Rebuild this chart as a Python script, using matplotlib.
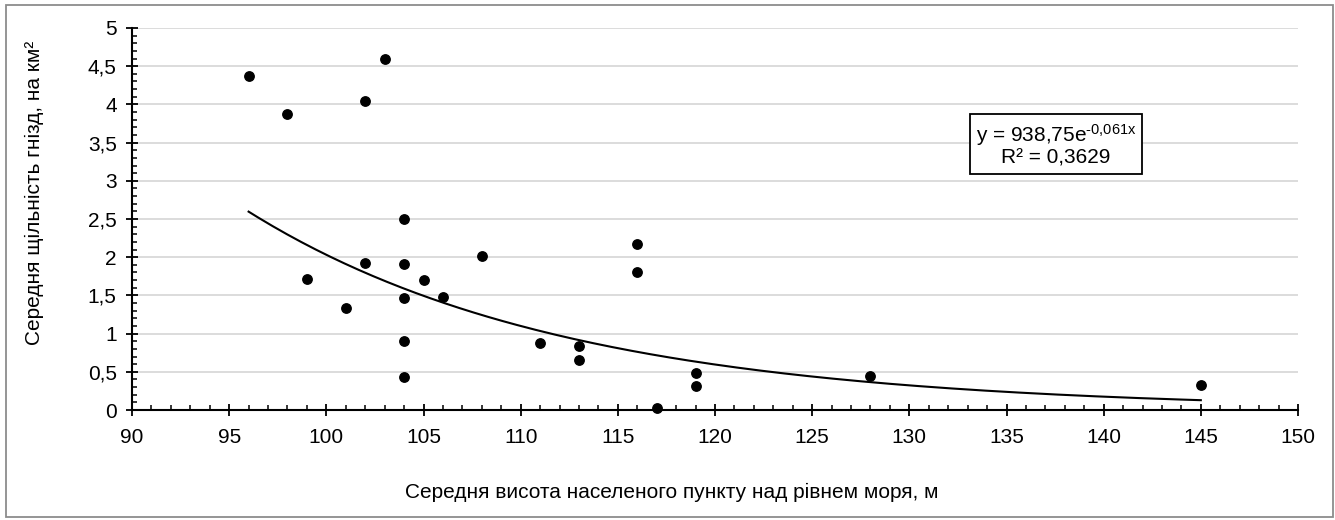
import numpy as np
import matplotlib
matplotlib.use('Agg')
import matplotlib.pyplot as plt
from matplotlib.patches import Rectangle
from matplotlib.ticker import MultipleLocator, FuncFormatter

plt.rcParams['font.family'] = ['Liberation Sans', 'DejaVu Sans']
plt.rcParams['mathtext.fontset'] = 'custom'
plt.rcParams['mathtext.rm'] = 'Liberation Sans'
plt.rcParams['mathtext.default'] = 'regular'

# altitude of settlement, m
altitude = [96, 98, 102, 103, 99, 101, 102, 104, 104, 104, 104, 104,
            105, 106, 108, 111, 113, 113, 116, 116, 117, 119, 119, 128, 145]
# mean nest density, per km2
density = [4.37, 3.87, 4.04, 4.59, 1.71, 1.33, 1.93, 2.50, 1.91, 1.46, 0.90, 0.43,
           1.70, 1.48, 2.01, 0.88, 0.84, 0.66, 2.17, 1.80, 0.03, 0.48, 0.32, 0.44, 0.33]

eq_text = 'y = 938,75e$^{\u20100{,}061x}$\nR² = 0,3629'
xlabel = 'Середня висота населеного пункту над рівнем моря, м'
ylabel = 'Середня щільність гнізд, на км²'

x = np.array(altitude, dtype=float)
y = np.array(density, dtype=float)

# exponential trendline (least squares on log y, as Excel does)
b, ln_a = np.polyfit(x, np.log(y), 1)
xt = np.linspace(x.min(), x.max(), 200)
yt = np.exp(ln_a) * np.exp(b * xt)

fig = plt.figure(figsize=(13.35, 5.2), dpi=100)
ax = fig.add_axes([132/1335, 1 - 410/520, (1298-132)/1335, (410-28)/520])

ax.yaxis.grid(True, color='#d9d9d9', lw=1.3, zorder=0)
ax.set_axisbelow(True)
ax.plot(xt, yt, color='black', lw=1.5, zorder=2)
ax.scatter(x, y, s=46, color='black', zorder=3, clip_on=False)

ax.set_xlim(90, 150)
ax.set_ylim(0, 5)
ax.xaxis.set_major_locator(MultipleLocator(5))
ax.xaxis.set_minor_locator(MultipleLocator(1))
ax.yaxis.set_major_locator(MultipleLocator(0.5))
ax.yaxis.set_minor_locator(MultipleLocator(0.1))
ax.yaxis.set_major_formatter(FuncFormatter(lambda v, p: ('%g' % v).replace('.', ',')))

for s in ['top', 'right']:
    ax.spines[s].set_visible(False)
for s in ['left', 'bottom']:
    ax.spines[s].set_linewidth(1.5)
    ax.spines[s].set_color('black')

ax.tick_params(which='major', direction='inout', length=8, width=1.3,
               labelsize=15, colors='black')
ax.tick_params(which='minor', direction='in', length=3.5, width=1.1, colors='black')
ax.tick_params(axis='x', which='major', pad=9)
ax.tick_params(axis='y', which='major', pad=7)

fig.text(672/1335, 1 - 492/520, xlabel, ha='center', va='center', fontsize=15)
fig.text(34/1335, 1 - 193/520, ylabel, ha='center', va='center',
         rotation=90, fontsize=15)

ax.text(1056/1335, 1 - 145/520, eq_text, transform=fig.transFigure,
        ha='center', va='center', fontsize=15, multialignment='center',
        linespacing=1.0,
        bbox=dict(boxstyle='square,pad=0.3', fc='white', ec='black', lw=1.3),
        zorder=5)

fig.patches.append(Rectangle((6/1335, 3/520), 1327/1335, 512/520,
                             transform=fig.transFigure, fill=False,
                             ec='#8c8c8c', lw=1.3))

fig.savefig('out.png', dpi=100)
